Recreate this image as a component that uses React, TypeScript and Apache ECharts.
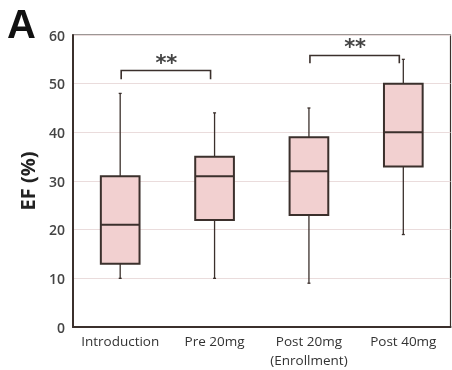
import React, { useEffect, useRef } from "react";
import * as echarts from "echarts";

const categories = ["Introduction", "Pre 20mg", "Post 20mg\n(Enrollment)", "Post 40mg"];
// [min, Q1, median, Q3, max]
const boxValues = [
  [10, 13, 21, 31, 48],
  [10, 22, 31, 35, 44],
  [9, 23, 32, 39, 45],
  [19, 33, 40, 50, 55],
];
// [fromCategory, toCategory, bracketTop, legBottom]
const brackets = [
  [0, 1, 52.7, 50.9],
  [2, 3, 55.8, 54.2],
];
const yTicks = { min: 0, max: 60, interval: 10 };

export default function App() {
  const ref = useRef<HTMLDivElement>(null);
  useEffect(() => {
    if (!ref.current) return;
    const chart = echarts.init(ref.current, null, { renderer: "svg" });
    const dark = "#3b302c";
    chart.setOption({
      animation: false,
      grid: {
        left: 73, right: 1.5, top: 35, bottom: 43,
        show: true, borderColor: dark, borderWidth: 1.2, backgroundColor: "transparent",
      },
      graphic: [
        {
          type: "text", left: 7, top: 4,
          style: { text: "A", font: "bold 40px 'Liberation Sans', Arial, sans-serif", fill: "#111" },
        },
      ],
      xAxis: {
        type: "category",
        data: categories,
        axisLine: { lineStyle: { color: dark, width: 2 } },
        axisTick: { show: false },
        axisLabel: {
          color: "#333", fontSize: 13.5, fontWeight: 500, fontFamily: "'Open Sans', sans-serif",
          lineHeight: 19, margin: 4, interval: 0,
        },
      },
      yAxis: {
        type: "value",
        min: yTicks.min, max: yTicks.max, interval: yTicks.interval,
        name: "EF (%)",
        nameLocation: "middle",
        nameGap: 36,
        nameTextStyle: { fontSize: 20, fontWeight: "bold", color: "#222", fontFamily: "'Open Sans', sans-serif" },
        axisLine: { show: true, lineStyle: { color: dark, width: 2 } },
        axisTick: { show: false },
        splitLine: { lineStyle: { color: "#eadcdc", width: 1.2 } },
        axisLabel: { color: "#444", fontSize: 14, fontWeight: 600, fontFamily: "'Open Sans', sans-serif", margin: 8 },
      },
      series: [
        {
          type: "custom",
          data: boxValues.map((v, i) => [i, ...v]),
          encode: { x: 0, y: [1, 2, 3, 4, 5] },
          renderItem: (params: any, api: any) => {
            const i = api.value(0);
            const vals = [1, 2, 3, 4, 5].map((k) => api.value(k));
            const pts = vals.map((v) => api.coord([i, v]));
            const cx = pts[0][0];
            const bw = api.size([1, 0])[0] * 0.41;
            const st = { stroke: dark, lineWidth: 1.3, fill: "none" };
            return {
              type: "group",
              children: [
                { type: "line", shape: { x1: cx, y1: pts[0][1], x2: cx, y2: pts[1][1] }, style: st },
                { type: "line", shape: { x1: cx, y1: pts[3][1], x2: cx, y2: pts[4][1] }, style: st },
                { type: "line", shape: { x1: cx - 1.5, y1: pts[0][1], x2: cx + 1.5, y2: pts[0][1] }, style: st },
                { type: "line", shape: { x1: cx - 1.5, y1: pts[4][1], x2: cx + 1.5, y2: pts[4][1] }, style: st },
                {
                  type: "rect",
                  shape: { x: cx - bw / 2, y: pts[3][1], width: bw, height: pts[1][1] - pts[3][1] },
                  style: { fill: "#f2d0d0", stroke: dark, lineWidth: 2 },
                },
                { type: "line", shape: { x1: cx - bw / 2, y1: pts[2][1], x2: cx + bw / 2, y2: pts[2][1] }, style: { stroke: dark, lineWidth: 2 } },
              ],
            };
          },
          z: 5,
        },
        {
          type: "custom",
          data: brackets,
          encode: { x: [0, 1], y: [2, 3] },
          renderItem: (params: any, api: any) => {
            const a = api.coord([api.value(0), api.value(2)]);
            const b = api.coord([api.value(1), api.value(2)]);
            const legY = api.coord([api.value(0), api.value(3)])[1];
            return {
              type: "group",
              children: [
                {
                  type: "polyline",
                  shape: { points: [[a[0] + 1, legY], [a[0] + 1, a[1]], [b[0] - 4, b[1]], [b[0] - 4, legY]] },
                  style: { stroke: dark, lineWidth: 1.6, fill: "none" },
                },
                {
                  type: "text",
                  style: {
                    text: "**", x: (a[0] + b[0]) / 2 - 1, y: a[1] - 8,
                    align: "center", verticalAlign: "middle",
                    font: "bold 21px 'DejaVu Sans', sans-serif", fill: "#444",
                  },
                },
              ],
            };
          },
          z: 6,
        },
      ],
    });
    return () => chart.dispose();
  }, []);
  return <div ref={ref} style={{ position: "fixed", left: 0, top: 0, width: 452, height: 370 }} />;
}
